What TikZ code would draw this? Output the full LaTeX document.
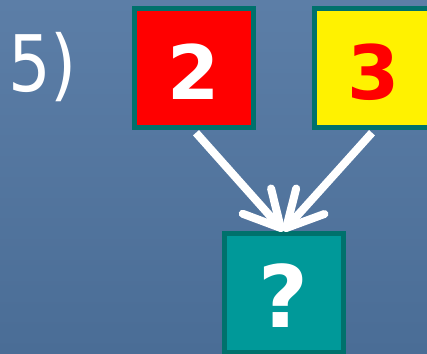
\documentclass[tikz,border=0pt]{standalone}
\usepackage{fontspec}
\setmainfont{DejaVu Sans}
\usepackage{xcolor}
\usepackage{tikz}
\usetikzlibrary{arrows.meta,positioning}

\definecolor{slidetop}{HTML}{5C7EA7}
\definecolor{slidebot}{HTML}{4A6D96}
\definecolor{boxedge}{HTML}{00716C}
\definecolor{tealfill}{HTML}{009999}

\begin{document}
\begin{tikzpicture}[x=1pt, y=1pt,
  every node/.style={inner sep=0pt},
  card/.style={draw=boxedge, line width=5pt, minimum size=119pt,
               font=\bfseries\fontsize{75}{75}\selectfont,
               text height=63pt, text depth=0pt},
  arr/.style={white, line width=8pt, shorten <=3pt,
              -{Straight Barb[length=36pt, width=38pt, round]}},
]
% slide background
\shade[top color=slidetop, bottom color=slidebot] (0,0) rectangle (427,353);
\useasboundingbox (0,0) rectangle (427,353);

\node[anchor=base west, text=white, font=\fontsize{78}{78}\selectfont,
      xscale=0.86, transform shape]
  (step) at (8,261) {5)};

\node[card, fill=red, text=white]       (two)   at (194,284.5) {2};
\node[card, fill=yellow, text=red]      (three) at (374,284.5) {3};
\node[card, fill=tealfill, text=white,
      font=\bfseries\fontsize{86}{86}\selectfont,
      text height=68pt]                 (ask)   at (283.5,60)  {?};

\draw[arr] (two.south)   -- (ask.north);
\draw[arr] (three.south) -- (ask.north);
\end{tikzpicture}
\end{document}
